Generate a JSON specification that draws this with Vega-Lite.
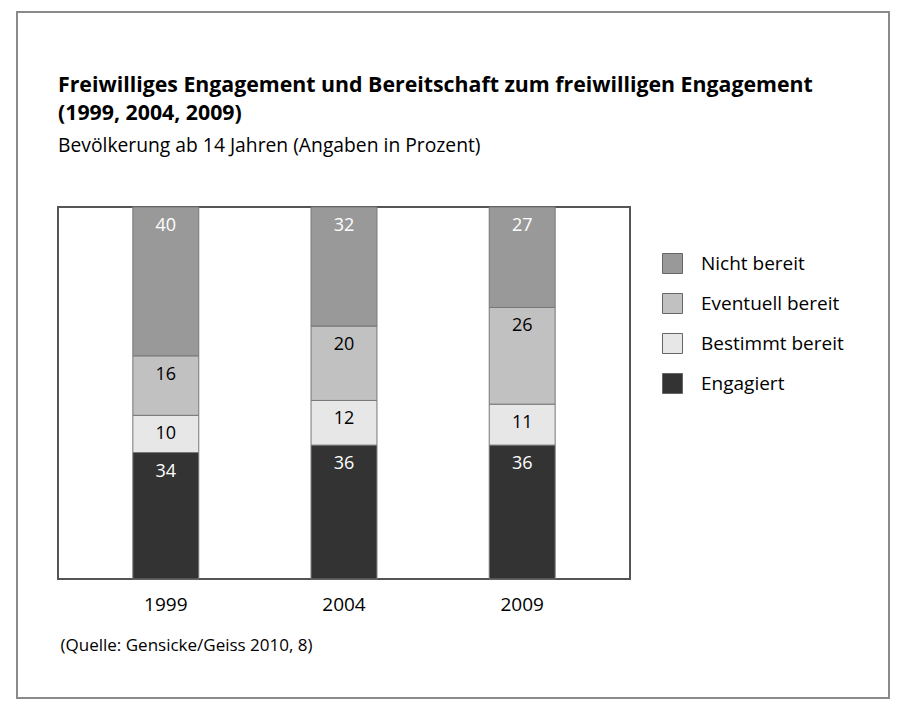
{
  "$schema": "https://vega.github.io/schema/vega-lite/v6.json",
  "width": 572,
  "height": 372,
  "autosize": {"type": "none"},
  "padding": {"left": 58, "top": 207, "right": 270, "bottom": 133},
  "background": "white",
  "config": {
    "font": "Open Sans",
    "view": {"stroke": "#555555", "strokeWidth": 2}
  },
  "title": {
    "text": ["Freiwilliges Engagement und Bereitschaft zum freiwilligen Engagement", "(1999, 2004, 2009)"],
    "subtitle": "Bevölkerung ab 14 Jahren (Angaben in Prozent)",
    "anchor": "start",
    "frame": "group",
    "fontSize": 21.3,
    "fontWeight": "bold",
    "lineHeight": 28,
    "color": "black",
    "subtitleFontSize": 19.3,
    "subtitleColor": "black",
    "subtitlePadding": 12,
    "offset": -145
  },
  "datasets": {
    "bars": [
      {"year": "1999", "category": "Engagiert", "value": 34, "rank": 1},
      {"year": "1999", "category": "Bestimmt bereit", "value": 10, "rank": 2},
      {"year": "1999", "category": "Eventuell bereit", "value": 16, "rank": 3},
      {"year": "1999", "category": "Nicht bereit", "value": 40, "rank": 4},
      {"year": "2004", "category": "Engagiert", "value": 36, "rank": 1},
      {"year": "2004", "category": "Bestimmt bereit", "value": 12, "rank": 2},
      {"year": "2004", "category": "Eventuell bereit", "value": 20, "rank": 3},
      {"year": "2004", "category": "Nicht bereit", "value": 32, "rank": 4},
      {"year": "2009", "category": "Engagiert", "value": 36, "rank": 1},
      {"year": "2009", "category": "Bestimmt bereit", "value": 11, "rank": 2},
      {"year": "2009", "category": "Eventuell bereit", "value": 26, "rank": 3},
      {"year": "2009", "category": "Nicht bereit", "value": 27, "rank": 4}
    ],
    "frame": [{"k": 1}]
  },
  "layer": [
    {
      "data": {"name": "frame"},
      "mark": {"type": "rect", "fill": null, "stroke": "#8a8a8a", "strokeWidth": 2, "clip": false},
      "encoding": {
        "x": {"value": -41},
        "x2": {"value": 831},
        "y": {"value": -195},
        "y2": {"value": 491}
      }
    },
    {
      "data": {"name": "bars"},
      "transform": [
        {"stack": "value", "groupby": ["year"], "sort": [{"field": "rank", "order": "ascending"}], "as": ["y0", "y1"]}
      ],
      "layer": [
        {
          "mark": {"type": "bar", "stroke": "#777777", "strokeWidth": 1},
          "encoding": {
            "x": {
              "field": "year", "type": "nominal",
              "scale": {"paddingInner": 0.63, "paddingOuter": 0.42},
              "axis": {
                "labelAngle": 0, "labelFontSize": 19, "labelColor": "black", "ticks": false, "domain": false,
                "labelPadding": 16,
                "title": "(Quelle: Gensicke/Geiss 2010, 8)",
                "titleFontSize": 17, "titleFontWeight": "normal", "titleColor": "black",
                "titleAnchor": "start", "titleAlign": "left", "titleBaseline": "middle",
                "titleX": 2, "titleY": 66
              }
            },
            "y": {"field": "y0", "type": "quantitative", "scale": {"domain": [0, 100], "nice": false}, "axis": null},
            "y2": {"field": "y1"},
            "color": {
              "field": "category", "type": "nominal",
              "scale": {
                "domain": ["Nicht bereit", "Eventuell bereit", "Bestimmt bereit", "Engagiert"],
                "range": ["#999999", "#c1c1c1", "#e7e7e7", "#333333"]
              },
              "legend": {
                "orient": "none", "legendX": 604, "legendY": 46,
                "title": null, "symbolType": "square", "symbolSize": 400,
                "symbolStrokeColor": "#666666", "symbolStrokeWidth": 1,
                "labelFontSize": 19, "labelColor": "black", "labelOffset": 18,
                "rowPadding": 15, "padding": 0
              }
            }
          }
        },
        {
          "mark": {"type": "text", "baseline": "middle", "dy": 19, "fontSize": 18},
          "encoding": {
            "x": {"field": "year", "type": "nominal"},
            "y": {"field": "y1", "type": "quantitative"},
            "text": {"field": "value", "type": "quantitative"},
            "color": {
              "condition": {"test": "datum.category === 'Nicht bereit' || datum.category === 'Engagiert'", "value": "white"},
              "value": "black"
            }
          }
        }
      ]
    }
  ]
}
